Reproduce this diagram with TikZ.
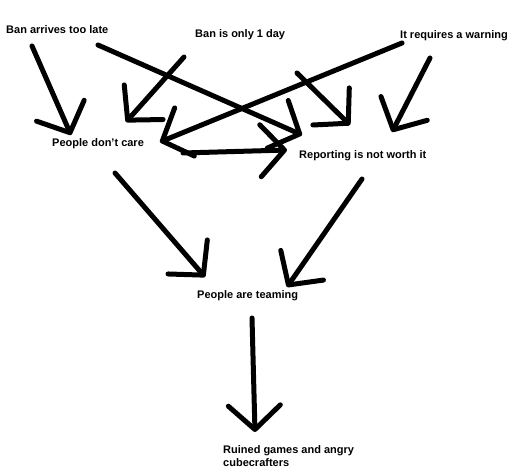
\documentclass[tikz,border=0pt]{standalone}
\usepackage{fontspec}
\setmainfont{Liberation Sans}
\usetikzlibrary{arrows.meta}

\tikzset{
  lbl/.style={anchor=west, inner sep=0pt, font=\fontsize{11}{13}\selectfont\bfseries},
  arr/.style={line width=5pt, line cap=round,
    -{Straight Barb[length=24pt, width=52pt, round]}}
}

\begin{document}
\begin{tikzpicture}[x=1pt, y=-1pt]
\useasboundingbox (0,0) rectangle (530,476);

% texts
\node[lbl] (late)  at (6,30)    {Ban arrives too late};
\node[lbl] (day)   at (195,35)  {Ban is only 1 day};
\node[lbl] (warn)  at (400,36)  {It requires a warning};
\node[lbl] (care)  at (52,144)  {People don't care};
\node[lbl] (worth) at (299,156) {Reporting is not worth it};
\node[lbl] (team)  at (197,296) {People are teaming};
\node[lbl, align=left] (ruin) at (223,456) {Ruined games and angry\\cubecrafters};

% arrow ends
\coordinate (late-a)  at (32,46);   \coordinate (care-a)  at (71,135);
\coordinate (day-a)   at (184,57);  \coordinate (care-b)  at (126,122);
\coordinate (warn-a)  at (402,43);  \coordinate (care-c)  at (160,142);
\coordinate (late-b)  at (98,45);   \coordinate (worth-a) at (302,135);
\coordinate (day-b)   at (297,73);  \coordinate (worth-b) at (350,125);
\coordinate (warn-b)  at (430,58);  \coordinate (worth-c) at (392,132);
\coordinate (care-o)  at (183,153); \coordinate (worth-d) at (287,150);
\coordinate (care-p)  at (115,173); \coordinate (team-a)  at (205,277);
\coordinate (worth-o) at (362,179); \coordinate (team-b)  at (287,287);
\coordinate (team-o)  at (252,318); \coordinate (ruin-a)  at (255,432);

\foreach \s/\t in {late-a/care-a, day-a/care-b, warn-a/care-c,
                   late-b/worth-a, day-b/worth-b, warn-b/worth-c,
                   care-o/worth-d, care-p/team-a, worth-o/team-b,
                   team-o/ruin-a}
  \draw[arr] (\s) -- (\t);

\end{tikzpicture}
\end{document}
